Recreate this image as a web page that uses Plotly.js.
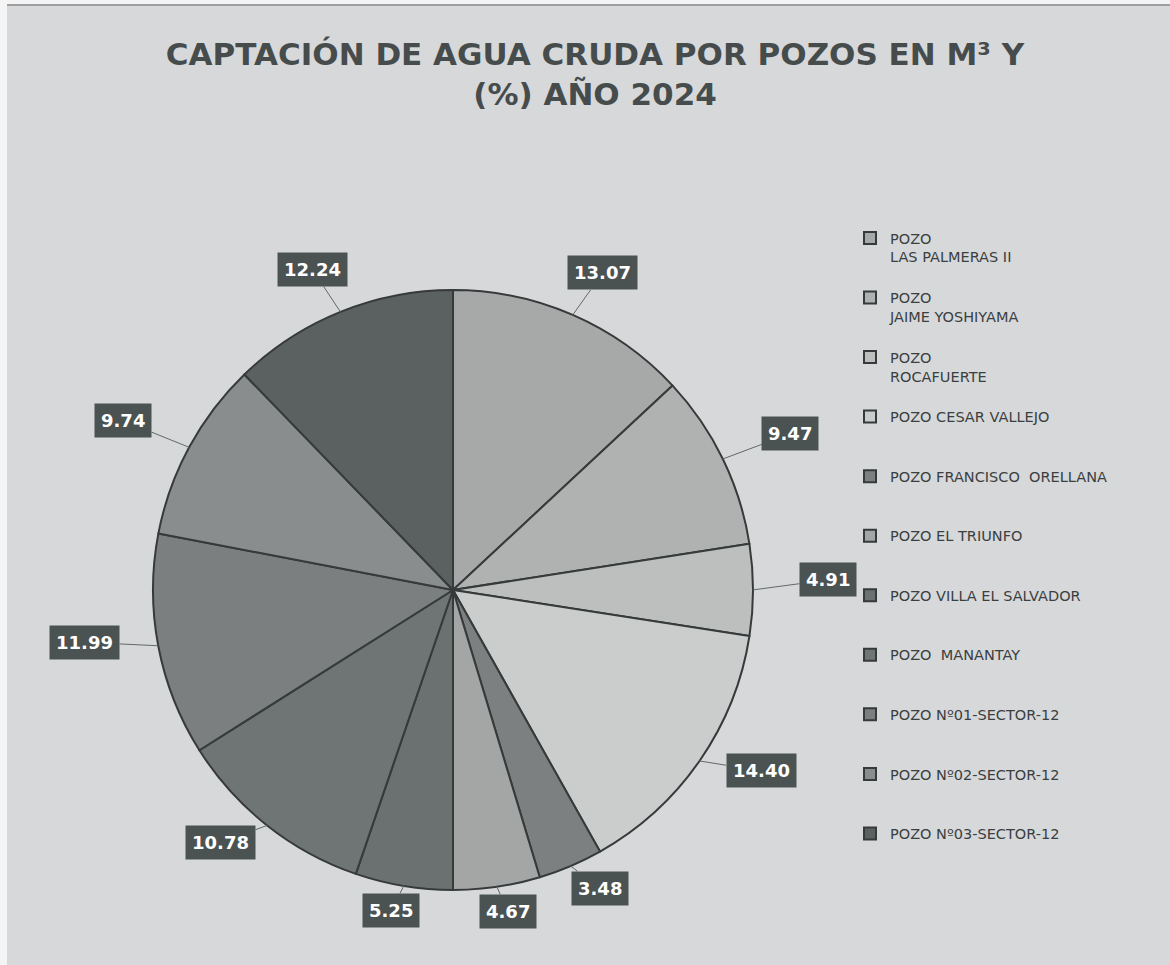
<!DOCTYPE html>
<html>
<head>
<meta charset="utf-8">
<script src="https://cdn.plot.ly/plotly-3.0.1.min.js"></script>
<style>
  html, body { margin: 0; padding: 0; background: #f2f2f2; }
  #plot { width: 1170px; height: 965px; }
</style>
</head>
<body>
<div id="plot"></div>
<script>
var wells = [
  'POZO<br>LAS PALMERAS II',
  'POZO<br>JAIME YOSHIYAMA',
  'POZO<br>ROCAFUERTE',
  'POZO CESAR VALLEJO',
  'POZO FRANCISCO  ORELLANA',
  'POZO EL TRIUNFO',
  'POZO VILLA EL SALVADOR',
  'POZO  MANANTAY',
  'POZO Nº01-SECTOR-12',
  'POZO Nº02-SECTOR-12',
  'POZO Nº03-SECTOR-12'
];
var percent = [13.07, 9.47, 4.91, 14.40, 3.48, 4.67, 5.25, 10.78, 11.99, 9.74, 12.24];
var greys = ['#a7a9a9', '#b0b2b2', '#bdbfbf', '#cbcdcd', '#7c8080', '#a4a6a6',
             '#6b7070', '#6f7474', '#7b7f7f', '#898d8d', '#5b6060'];

// page geometry (pixels)
var W = 1170, H = 965;
var cx = 453, cy = 590, R = 300;
// where the value boxes sit, measured from the centre
var labRx = 375, labRy = 335, labDy = -10;

// every legend entry takes three lines, symbol on the first one
function pad(label) {
  var n = label.split('<br>').length;
  var out = label;
  for (var i = n; i < 3; i++) out += '<br>\u00a0';
  return out;
}

var total = percent.reduce(function (a, b) { return a + b; }, 0);
var annotations = [];
var cum = 0;
percent.forEach(function (v) {
  var mid = (cum + v / 2) / total * 2 * Math.PI;
  cum += v;
  var sx = Math.sin(mid), sy = Math.cos(mid);
  var tipX = cx + R * sx, tipY = cy - R * sy;
  annotations.push({
    xref: 'paper', yref: 'paper',
    x: tipX / W,
    y: 1 - tipY / H,
    ax: (cx + labRx * sx) - tipX,
    ay: (cy + labDy - labRy * sy) - tipY,
    text: v.toFixed(2),
    showarrow: true,
    arrowhead: 0,
    arrowwidth: 1,
    arrowcolor: '#62686a',
    bgcolor: '#4b5252',
    borderpad: 6,
    font: {family: 'DejaVu Sans', size: 18, color: '#ffffff', weight: 'bold'}
  });
});

var data = [{
  type: 'pie',
  labels: wells.map(pad),
  values: percent,
  sort: false,
  direction: 'clockwise',
  rotation: 0,
  textinfo: 'none',
  hoverinfo: 'label+value',
  marker: {colors: greys, line: {color: '#363a3a', width: 2}},
  domain: {
    x: [(cx - R) / W, (cx + R) / W],
    y: [1 - (cy + R) / H, 1 - (cy - R) / H]
  }
}];

var layout = {
  width: W,
  height: H,
  margin: {l: 0, r: 0, t: 0, b: 0},
  paper_bgcolor: '#d7d8da',
  title: {
    text: 'CAPTACIÓN DE AGUA CRUDA POR POZOS EN M³ Y<br>(%) AÑO 2024',
    x: 595 / W, xanchor: 'center',
    y: 1 - 65 / H, yanchor: 'middle',
    font: {family: 'DejaVu Sans', size: 31, color: '#464c4c', weight: 'bold'}
  },
  legend: {
    x: 850 / W, xanchor: 'left',
    y: 1 - 222 / H, yanchor: 'top',
    valign: 'top',
    bgcolor: 'rgba(0,0,0,0)',
    font: {family: 'DejaVu Sans', size: 14.5, color: '#3a3f3f'}
  },
  // scanned page edge: light strip on the left, thin rule on top
  shapes: [
    {type: 'rect', xref: 'paper', yref: 'paper', x0: 0, x1: 7 / W, y0: 0, y1: 1,
     fillcolor: '#f4f4f4', line: {width: 0}, layer: 'below'},
    {type: 'rect', xref: 'paper', yref: 'paper', x0: 0, x1: 1, y0: 1 - 4 / H, y1: 1,
     fillcolor: '#f4f4f4', line: {width: 0}, layer: 'below'},
    {type: 'line', xref: 'paper', yref: 'paper', x0: 7 / W, x1: 1, y0: 1 - 5 / H, y1: 1 - 5 / H,
     line: {color: '#8a8c8e', width: 1.5}, layer: 'below'}
  ],
  annotations: annotations,
  showlegend: true
};

Plotly.newPlot('plot', data, layout, {displayModeBar: false});
</script>
</body>
</html>
